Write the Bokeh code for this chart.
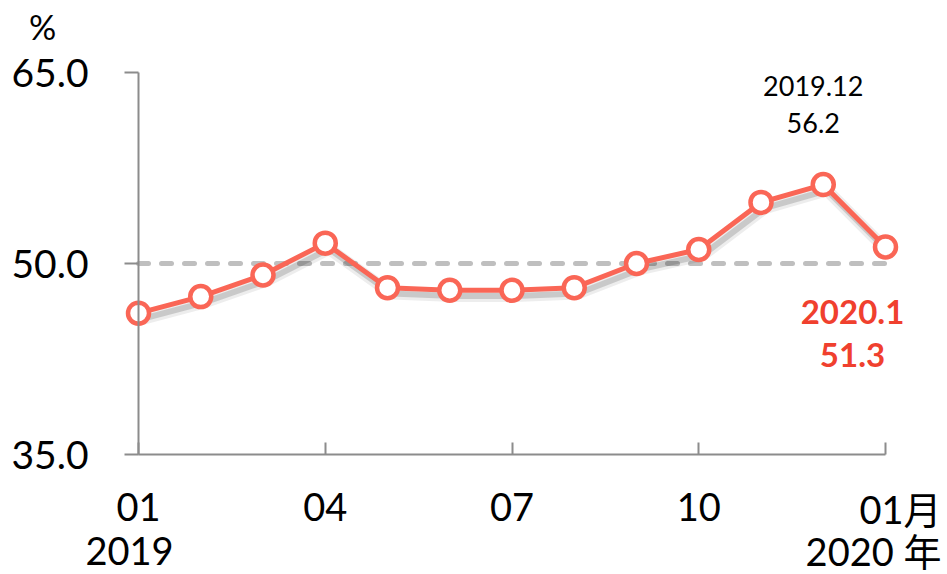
from bokeh.plotting import figure
from bokeh.models import Range1d, FixedTicker, NumeralTickFormatter, Label, LinearAxis
from bokeh.embed import file_html
from bokeh.resources import INLINE

# ---- data ----
months = ["01", "02", "03", "04", "05", "06", "07", "08", "09", "10", "11", "12", "01"]
x_idx = list(range(len(months)))
values = [46.1, 47.4, 49.1, 51.6, 48.1, 47.9, 47.9, 48.1, 50.0, 51.1, 54.8, 56.2, 51.3]
threshold = 50.0
y_ticks = [35, 50, 65]
x_ticks = [0, 3, 6, 9, 12]
x_tick_labels = ["01", "04", "07", "10", "01月"]
year_labels = ["2019", "2020 年"]
peak_idx = 11
peak_label = "2019.12"
last_label = "2020.1"
unit_label = "%"

# ---- style ----
RED = "#FA6656"
RED_TXT = "#F0402E"
GREY_AX = "#8C8C8C"
GREY_DASH = "#BFBFBF"
FONT = "Lato, Noto Sans CJK SC"

W, H = 947, 574
# frame covers the whole canvas; axes are placed at fixed data locations
X0, X1 = -2.217, 12.996
Y0, Y1 = 25.576, 70.655
p = figure(width=W, height=H,
           x_range=Range1d(X0, X1), y_range=Range1d(Y0, Y1),
           output_backend="svg", toolbar_location=None,
           x_axis_type=None, y_axis_type=None,
           min_border=0)
p.grid.visible = False
p.outline_line_color = None
p.background_fill_color = "white"
p.border_fill_color = "white"

# y axis at first month
ya = LinearAxis(fixed_location=x_idx[0], bounds=(y_ticks[0], y_ticks[-1]))
ya.ticker = FixedTicker(ticks=y_ticks)
ya.formatter = NumeralTickFormatter(format="0.0")
ya.axis_line_color = GREY_AX
ya.axis_line_width = 2
ya.major_tick_in = 0
ya.major_tick_out = 14
ya.major_tick_line_color = GREY_AX
ya.major_tick_line_width = 2
ya.minor_tick_line_color = None
ya.major_label_text_font = FONT
ya.major_label_text_font_size = "39px"
ya.major_label_text_color = "black"
ya.major_label_standoff = 36
p.add_layout(ya, "left")

# x axis at bottom of value range
xa = LinearAxis(fixed_location=y_ticks[0], bounds=(x_idx[0], x_idx[-1]))
xa.ticker = FixedTicker(ticks=x_ticks)
overrides = {t: lab for t, lab in zip(x_ticks[:-1], x_tick_labels[:-1])}
overrides[x_ticks[-1]] = ""
xa.major_label_overrides = overrides
xa.axis_line_color = GREY_AX
xa.axis_line_width = 2
xa.major_tick_in = 12
xa.major_tick_out = 0
xa.major_tick_line_color = GREY_AX
xa.major_tick_line_width = 2
xa.minor_tick_line_color = None
xa.major_label_text_font = FONT
xa.major_label_text_font_size = "38px"
xa.major_label_text_color = "black"
xa.major_label_standoff = 38
p.add_layout(xa, "below")

# threshold dashed line
p.line([x_idx[0], x_idx[-1]], [threshold, threshold], line_color=GREY_DASH,
       line_width=5, line_dash="10 13", line_cap="round")

# shadow via shifted ranges
p.extra_x_ranges = {"sh": Range1d(X0 - 0.06, X1 - 0.06)}
p.extra_y_ranges = {"sh": Range1d(Y0 + 0.45, Y1 + 0.45)}
p.line(x_idx, values, x_range_name="sh", y_range_name="sh",
       line_color="black", line_alpha=0.07, line_width=12, line_join="round")
p.line(x_idx, values, x_range_name="sh", y_range_name="sh",
       line_color="black", line_alpha=0.15, line_width=6, line_join="round")

# main series
p.line(x_idx, values, line_color=RED, line_width=5, line_join="round")
p.scatter(x_idx, values, size=21, fill_color="white", line_color=RED, line_width=4.5)

# unit
p.add_layout(Label(x=x_idx[0], y=y_ticks[-1], x_offset=-96, y_offset=46, text=unit_label,
                   text_font=FONT, text_font_size="34px", text_align="center",
                   text_baseline="middle", text_color="black"))

# last x tick label (right aligned) and years
p.add_layout(Label(x=x_ticks[-1], y=y_ticks[0], x_offset=56, y_offset=-54,
                   text=x_tick_labels[-1], text_font=FONT, text_font_size="38px",
                   text_align="right", text_baseline="middle", text_color="black"))
p.add_layout(Label(x=x_ticks[-1], y=y_ticks[0], x_offset=56, y_offset=-96,
                   text=year_labels[1], text_font=FONT, text_font_size="38px",
                   text_align="right", text_baseline="middle", text_color="black"))
p.add_layout(Label(x=x_ticks[0], y=y_ticks[0], x_offset=-9, y_offset=-96,
                   text=year_labels[0], text_font=FONT, text_font_size="38px",
                   text_align="center", text_baseline="middle", text_color="black"))

# peak annotation
p.add_layout(Label(x=x_idx[peak_idx], y=values[peak_idx], x_offset=-10, y_offset=99,
                   text=peak_label, text_font=FONT, text_font_size="27px",
                   text_align="center", text_baseline="middle", text_color="black"))
p.add_layout(Label(x=x_idx[peak_idx], y=values[peak_idx], x_offset=-10, y_offset=62,
                   text=f"{values[peak_idx]:.1f}", text_font=FONT, text_font_size="27px",
                   text_align="center", text_baseline="middle", text_color="black"))

# latest annotation
p.add_layout(Label(x=x_idx[-1], y=values[-1], x_offset=-33, y_offset=-65,
                   text=last_label, text_font=FONT, text_font_size="33px",
                   text_font_style="bold", text_align="center", text_baseline="middle",
                   text_color=RED_TXT))
p.add_layout(Label(x=x_idx[-1], y=values[-1], x_offset=-33, y_offset=-108,
                   text=f"{values[-1]:.1f}", text_font=FONT, text_font_size="33px",
                   text_font_style="bold", text_align="center", text_baseline="middle",
                   text_color=RED_TXT))

open("out.html", "w").write(file_html(p, INLINE))
